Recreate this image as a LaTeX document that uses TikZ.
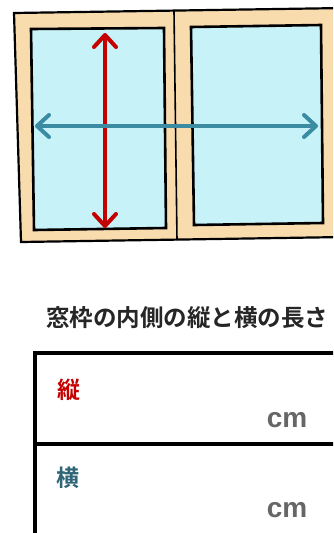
\documentclass[tikz,border=0pt]{standalone}
\usepackage{fontspec}
\setsansfont{Liberation Sans}
\newfontfamily\jpfont{Noto Sans CJK JP}[BoldFont={* Bold}]
\usepackage{xcolor}
\usetikzlibrary{arrows.meta}
\definecolor{frametan}{HTML}{F9DCAE}
\definecolor{glassblue}{HTML}{C6F2F8}
\definecolor{tatered}{HTML}{C40000}
\definecolor{yokoteal}{HTML}{3B8BA3}
\definecolor{yokotext}{HTML}{2F6577}
\definecolor{unitgray}{HTML}{666666}

\begin{document}
\begin{tikzpicture}[x=1pt,y=-1pt,
    measure/.style={line width=4pt,
      {Straight Barb[length=12pt,width=22pt,round]}-{Straight Barb[length=12pt,width=22pt,round]}},
    rowlabel/.style={font=\jpfont\bfseries\fontsize{23}{23}\selectfont},
    unit/.style={font=\sffamily\bfseries\fontsize{28}{28}\selectfont,text=unitgray}]
            \useasboundingbox (0,0) rectangle (333,533);
            \fill[white] (0,0) rectangle (333,533);
            \clip (0,0) rectangle (333,533);
            % window frame
            \filldraw[fill=frametan,draw=black,line width=2.2pt] (14,13) -- (345,8)
            -- (345,237) -- (21,242) -- cycle;
            \draw[line width=1.6pt] (174,11) -- (177,240);
            % glass panes
            \filldraw[fill=glassblue,draw=black,line width=2.6pt] (31,29) -- (164,28)
            -- (166,228) -- (34,230) -- cycle;
            \filldraw[fill=glassblue,draw=black,line width=2.6pt] (191,27) -- (321,25)
            -- (323,223) -- (194,225) -- cycle;
            % arrows
            \coordinate (tatetop) at (105,33);
            \coordinate (tatebot) at (105,228);
            \coordinate (yokoleft) at (35,126);
            \coordinate (yokoright) at (318,126);
            \draw[measure,draw=tatered] (tatetop) -- (tatebot);
            \draw[measure,draw=yokoteal] (yokoleft) -- (yokoright);
            % caption and table
            \node (title) at (187,318) {\jpfont\bfseries\fontsize{23.5}{23.5}\selectfont
              \textcolor{black!85}{窓枠の内側の縦と横の長さ}};
            \draw[line width=3.2pt] (35,540) -- (35,353) -- (345,353);
            \draw[line width=3.2pt] (35,444) -- (345,444);
            \node[rowlabel,text=tatered] (tate) at (69,390) {縦};
            \node[unit] (tatecm) at (287,420) {cm};
            \node[rowlabel,text=yokotext] (yoko) at (68,478) {横};
            \node[unit] (yokocm) at (287,510) {cm};
      \end{tikzpicture}
\end{document}
